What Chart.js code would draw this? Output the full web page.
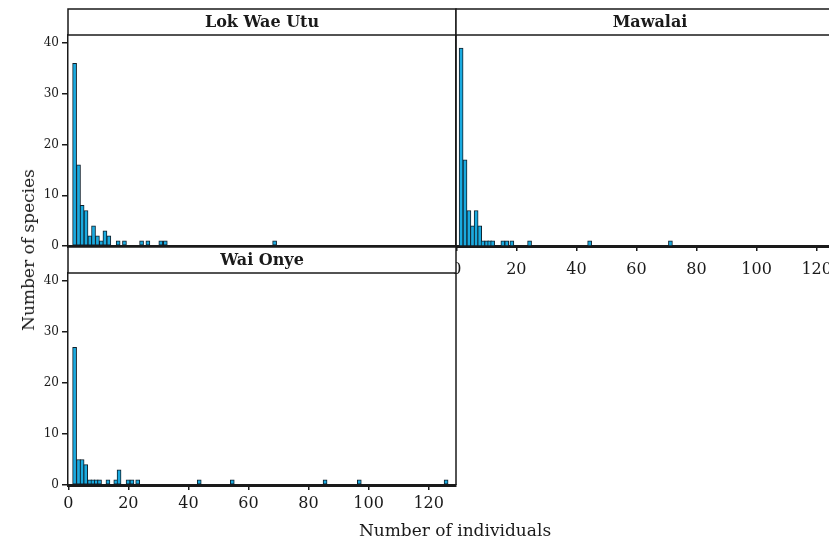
<!DOCTYPE html>
<html>
<head>
<meta charset="utf-8">
<script src="https://cdn.jsdelivr.net/npm/chart.js@4.4.1/dist/chart.umd.min.js"></script>
<style>
  body { margin: 0; width: 829px; height: 542px; overflow: hidden; background: #fff; position: relative; font-family: "DejaVu Serif", serif; }
  canvas { position: absolute; }
  .ttl { position: absolute; font-size: 17px; color: #1a1a1a; white-space: nowrap; }
</style>
</head>
<body>
<canvas id="lok" width="470" height="250" style="left:0;top:0"></canvas>
<canvas id="maw" width="420" height="290" style="left:446px;top:0"></canvas>
<canvas id="wai" width="470" height="295" style="left:0;top:247px"></canvas>
<div class="ttl" id="ytitle" style="left:28px;top:250px;transform:translate(-50%,-50%) rotate(-90deg)">Number of species</div>
<div class="ttl" id="xtitle" style="left:455px;top:530px;transform:translate(-50%,-50%)">Number of individuals</div>
<script>
// panel names
const panels = ["Lok Wae Utu", "Mawalai", "Wai Onye"];

// histogram bars: bin centre (number of individuals) and count (number of species)
const lokX = [2.1, 3.4, 4.6, 5.9, 7.2, 8.4, 9.7, 11.0, 12.2, 13.5, 16.6, 18.7, 24.4, 26.5, 30.8, 32.3, 68.7];
const lokY = [36, 16, 8, 7, 2, 4, 2, 1, 3, 2, 1, 1, 1, 1, 1, 1, 1];

const mawX = [1.6, 2.9, 4.2, 5.4, 6.6, 7.8, 8.9, 10.1, 11.1, 12.1, 15.5, 16.8, 18.5, 24.4, 44.4, 71.3];
const mawY = [39, 17, 7, 4, 7, 4, 1, 1, 1, 1, 1, 1, 1, 1, 1, 1];

const waiX = [2.1, 3.4, 4.6, 5.8, 7.1, 8.2, 9.3, 10.4, 13.2, 15.8, 16.9, 19.9, 21.2, 23.1, 43.6, 54.6, 85.5, 96.9, 125.8];
const waiY = [27, 5, 5, 4, 1, 1, 1, 1, 1, 1, 3, 1, 1, 1, 1, 1, 1, 1, 1];

const xTicks = [0, 20, 40, 60, 80, 100, 120];
const yTicks = [0, 10, 20, 30, 40];

const FONT = "DejaVu Serif";
const INK = "#1a1a1a";

// strip box with panel name above the plot area, plus right border of the panel
const stripPlugin = {
  id: "strip",
  afterDraw(chart, args, opts) {
    const ctx = chart.ctx, a = chart.chartArea;
    ctx.save();
    ctx.strokeStyle = INK;
    ctx.lineWidth = 1.5;
    ctx.beginPath();
    ctx.moveTo(a.right, a.top);
    ctx.lineTo(a.right, a.bottom);
    ctx.stroke();
    ctx.fillStyle = "#fff";
    ctx.fillRect(a.left, a.top - 26, a.right - a.left, 26);
    ctx.strokeRect(a.left, a.top - 26, a.right - a.left, 26);
    ctx.fillStyle = INK;
    ctx.font = "bold 16px '" + FONT + "'";
    ctx.textAlign = "center";
    ctx.textBaseline = "middle";
    ctx.fillText(opts.text, (a.left + a.right) / 2, a.top - 12);
    ctx.restore();
  }
};

function makePanel(id, name, xs, ys, cfg) {
  const pts = xs.map((x, i) => ({x: x, y: ys[i]}));
  return new Chart(document.getElementById(id), {
    type: "bar",
    data: {
      datasets: [{
        data: pts,
        backgroundColor: "#1aaadf",
        borderColor: "#0f1f2a",
        borderWidth: 1,
        borderSkipped: false,
        barThickness: 4
      }]
    },
    options: {
      responsive: false,
      animation: false,
      layout: {padding: {top: cfg.top, right: cfg.right, left: 0, bottom: 0}},
      plugins: {
        legend: {display: false},
        tooltip: {enabled: false},
        strip: {text: name}
      },
      scales: {
        x: {
          type: "linear",
          offset: false,
          min: -0.1,
          max: 129.1,
          afterBuildTicks: s => { s.ticks = xTicks.map(v => ({value: v})); },
          ticks: {display: cfg.xLabels, font: {family: FONT, size: 16}, color: INK, padding: cfg.xPad},
          grid: {display: cfg.xLabels, offset: false, drawOnChartArea: false, tickLength: 5, color: INK, lineWidth: 1.5},
          border: {display: true, color: INK, width: 3},
          afterFit: s => { s.height = cfg.xHeight; s.paddingLeft = 0; s.paddingRight = 0; }
        },
        y: {
          min: 0,
          max: 41.6,
          afterBuildTicks: s => { s.ticks = yTicks.map(v => ({value: v})); },
          ticks: {display: cfg.yLabels, font: {family: FONT, size: 12}, color: INK, padding: 3},
          grid: {display: cfg.yLabels, drawOnChartArea: false, tickLength: 6, color: INK, lineWidth: 1.5},
          border: {display: true, color: INK, width: 1.5},
          afterFit: s => { s.width = cfg.yWidth; s.paddingTop = 0; s.paddingBottom = 0; }
        }
      }
    },
    plugins: [stripPlugin]
  });
}

makePanel("lok", panels[0], lokX, lokY, {top: 35, right: 14, xLabels: false, xPad: 0, xHeight: 4, yLabels: true, yWidth: 68});
makePanel("maw", panels[1], mawX, mawY, {top: 35, right: 22, xLabels: true, xPad: 9, xHeight: 44, yLabels: false, yWidth: 10});
makePanel("wai", panels[2], waiX, waiY, {top: 26, right: 14, xLabels: true, xPad: 4, xHeight: 57, yLabels: true, yWidth: 68});
</script>
</body>
</html>
